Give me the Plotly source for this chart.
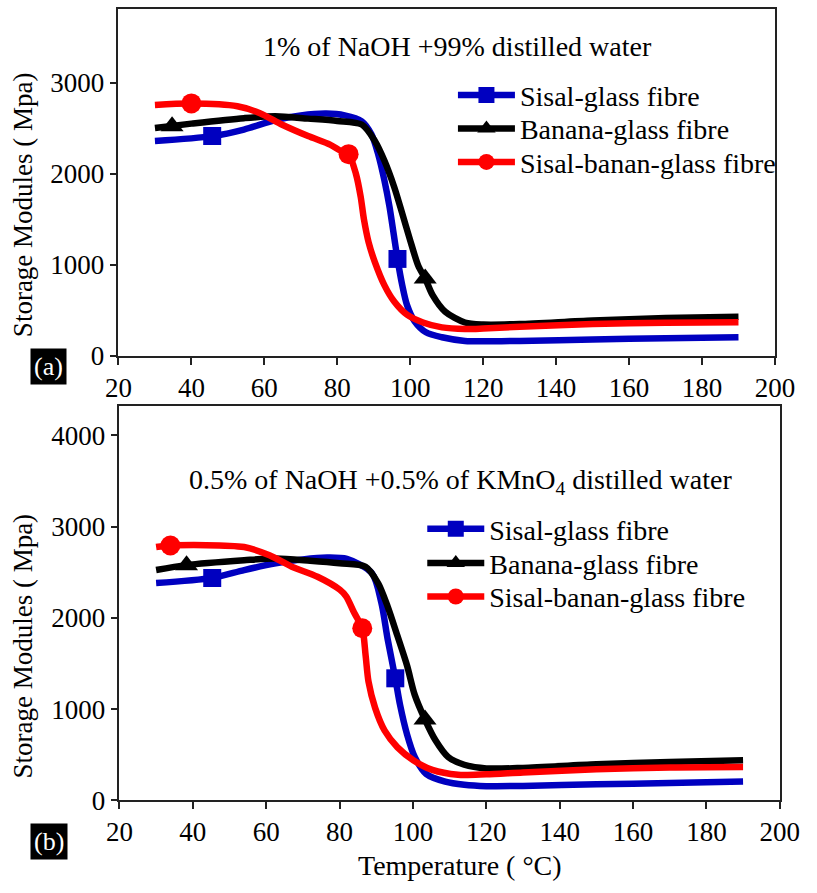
import plotly.graph_objects as go

# ---------------- data ----------------
# panel (a): 1% NaOH
temp_sisal_a = [30, 45.7, 54.4, 63, 70, 77, 82, 86.7, 89.4, 91.2, 92.9, 94.3, 96.5, 97.8, 99.1, 101.2, 104.3, 108.7, 115, 120, 130, 150, 170, 190]
mod_sisal_a = [2360, 2413, 2485, 2590, 2640, 2660, 2640, 2575, 2430, 2215, 1930, 1640, 1065, 777, 560, 380, 260, 205, 165, 160, 165, 180, 195, 205]
temp_banana_a = [30, 40, 54.4, 63, 72, 80, 86.7, 90.3, 92.9, 95.6, 97.8, 99.9, 102.2, 104.1, 106.1, 109.6, 115, 120, 130, 150, 170, 190]
mod_banana_a = [2503, 2550, 2610, 2630, 2605, 2580, 2540, 2360, 2145, 1855, 1565, 1280, 990, 850, 670, 485, 367, 345, 350, 390, 415, 430]
temp_mix_a = [30, 40, 52.6, 58.8, 64.9, 72, 78, 81, 83.1, 85.1, 86.4, 87.3, 88.6, 90.3, 92.9, 95.6, 99.1, 103.5, 108.7, 115, 120, 130, 150, 170, 190]
mod_mix_a = [2754, 2770, 2740, 2665, 2538, 2414, 2320, 2250, 2215, 2000, 1750, 1500, 1245, 1030, 777, 597, 453, 367, 313, 295, 300, 320, 350, 365, 370]

# panel (b): 0.5% NaOH + 0.5% KMnO4
temp_sisal_b = [30, 45.3, 54, 62.6, 70, 76.6, 82, 88.8, 91.4, 93.1, 95.2, 96.5, 98.4, 100.5, 103.6, 108.8, 114, 120, 130, 150, 170, 190]
mod_sisal_b = [2380, 2437, 2523, 2597, 2640, 2660, 2645, 2490, 2165, 1770, 1337, 1045, 723, 475, 290, 205, 170, 155, 158, 175, 190, 205]
temp_banana_b = [30, 38.3, 54, 62.6, 72, 80, 87.1, 90.5, 93.1, 95.8, 98.4, 100.5, 103.3, 106.2, 109.6, 114, 120, 130, 150, 170, 190]
mod_banana_b = [2523, 2577, 2630, 2650, 2625, 2597, 2560, 2380, 2125, 1800, 1477, 1155, 885, 655, 475, 390, 350, 355, 395, 420, 440]
temp_mix_b = [30, 33.9, 54, 60.9, 67, 74, 80.1, 81.8, 84, 86.2, 87.1, 87.9, 89.7, 92.3, 95.8, 100.1, 105.3, 112.3, 120, 130, 150, 170, 190]
mod_mix_b = [2775, 2792, 2775, 2685, 2560, 2450, 2307, 2235, 2055, 1885, 1590, 1300, 1013, 763, 580, 440, 333, 280, 285, 305, 340, 360, 365]

# marker positions
mk_sisal_a_T, mk_sisal_a_V = [45.7, 96.5], [2413, 1065]
mk_banana_a_T, mk_banana_a_V = [34.7, 104.1], [2520, 850]
mk_mix_a_T, mk_mix_a_V = [40, 83.1], [2772, 2215]
mk_sisal_b_T, mk_sisal_b_V = [45.3, 95.2], [2437, 1337]
mk_banana_b_T, mk_banana_b_V = [38.3, 103.3], [2577, 885]
mk_mix_b_T, mk_mix_b_V = [33.9, 86.2], [2792, 1885]

series_names = ["Sisal-glass fibre", "Banana-glass fibre", "Sisal-banan-glass fibre"]
x_ticks = [20, 40, 60, 80, 100, 120, 140, 160, 180, 200]
y_ticks_a = [0, 1000, 2000, 3000]
y_ticks_b = [0, 1000, 2000, 3000, 4000]

# ---------------- styles ----------------
colors = ["#0000C0", "#000000", "#FF0000"]
symbols = ["square", "triangle-up", "circle"]
msizes = [18, 20, 20]
FONT = "Liberation Serif"
LW = 6.5
W, H = 817, 893

fig = go.Figure()

panels = [
    ("x", "y", ["legend", "legend3", "legend4"],
     [(temp_sisal_a, mod_sisal_a, mk_sisal_a_T, mk_sisal_a_V),
      (temp_banana_a, mod_banana_a, mk_banana_a_T, mk_banana_a_V),
      (temp_mix_a, mod_mix_a, mk_mix_a_T, mk_mix_a_V)]),
    ("x2", "y2", ["legend2", "legend5", "legend6"],
     [(temp_sisal_b, mod_sisal_b, mk_sisal_b_T, mk_sisal_b_V),
      (temp_banana_b, mod_banana_b, mk_banana_b_T, mk_banana_b_V),
      (temp_mix_b, mod_mix_b, mk_mix_b_T, mk_mix_b_V)]),
]

for xa, ya, lgs, series in panels:
    for i, (T, V, mT, mV) in enumerate(series):
        fig.add_trace(go.Scatter(x=T, y=V, mode="lines", xaxis=xa, yaxis=ya,
                                 line=dict(color=colors[i], width=LW, shape="spline", smoothing=0.8),
                                 showlegend=False, hoverinfo="skip"))
        fig.add_trace(go.Scatter(x=mT, y=mV, mode="markers", xaxis=xa, yaxis=ya,
                                 marker=dict(color=colors[i], symbol=symbols[i], size=msizes[i]),
                                 showlegend=False))
        fig.add_trace(go.Scatter(x=[None], y=[None], mode="lines+markers", xaxis=xa, yaxis=ya,
                                 name=series_names[i], legend=lgs[i],
                                 line=dict(color=colors[i], width=LW),
                                 marker=dict(color=colors[i], symbol=symbols[i], size=msizes[i])))

axis_common = dict(
    showline=True, linecolor="#222", linewidth=1.5, mirror=True,
    ticks="outside", ticklen=7, tickwidth=1.5, tickcolor="#222",
    showgrid=False, zeroline=False,
    tickfont=dict(family=FONT, size=27, color="black"),
)


def legend_at(xpx, ypx):
    return dict(x=xpx / W, y=1 - ypx / H, xanchor="left", yanchor="middle", bgcolor="rgba(0,0,0,0)",
                font=dict(family=FONT, size=28, color="black"), itemwidth=57)


def text_at(text, xpx, ypx, size=28, **kw):
    return dict(text=text, x=xpx / W, y=1 - ypx / H, xanchor="center", yanchor="middle",
                xref="paper", yref="paper", showarrow=False,
                font=dict(family=FONT, size=size, color=kw.pop("color", "black")), **kw)


fig.update_layout(
    width=W, height=H, margin=dict(l=0, r=0, t=0, b=0),
    paper_bgcolor="white", plot_bgcolor="white",
    font=dict(family=FONT, size=28, color="black"),
    xaxis=dict(domain=[109 / W, 794 / W], range=[20, 200], tickvals=x_ticks, anchor="y", **axis_common),
    yaxis=dict(domain=[1 - 362 / H, 1 - 9 / H], range=[0, 3810], tickvals=y_ticks_a, anchor="x", **axis_common),
    xaxis2=dict(domain=[110 / W, 799 / W], range=[20, 200], tickvals=x_ticks, anchor="y2", **axis_common),
    yaxis2=dict(domain=[1 - 814 / H, 1 - 413 / H], range=[0, 4320], tickvals=y_ticks_b, anchor="x2", **axis_common),
    legend=legend_at(458, 97),
    legend3=legend_at(458, 131),
    legend4=legend_at(458, 165),
    legend2=legend_at(426, 538),
    legend5=legend_at(426, 573),
    legend6=legend_at(426, 607),
    annotations=[
        text_at("1% of NaOH +99% distilled water", 463, 47),
        text_at("0.5% of NaOH +0.5% of KMnO<sub>4</sub> distilled water", 466, 490),
        text_at("Temperature ( °C)", 465, 880),
        text_at("Storage Modules ( Mpa)", 9, 208, size=27, textangle=-90),
        text_at("Storage Modules ( Mpa)", 9, 657, size=27, textangle=-90),
        text_at("(a)", 36.5, 373, size=26, color="white", bgcolor="black", borderpad=3),
        text_at("(b)", 36.5, 856, size=26, color="white", bgcolor="black", borderpad=3),
    ],
)

fig.write_html("out.html")
